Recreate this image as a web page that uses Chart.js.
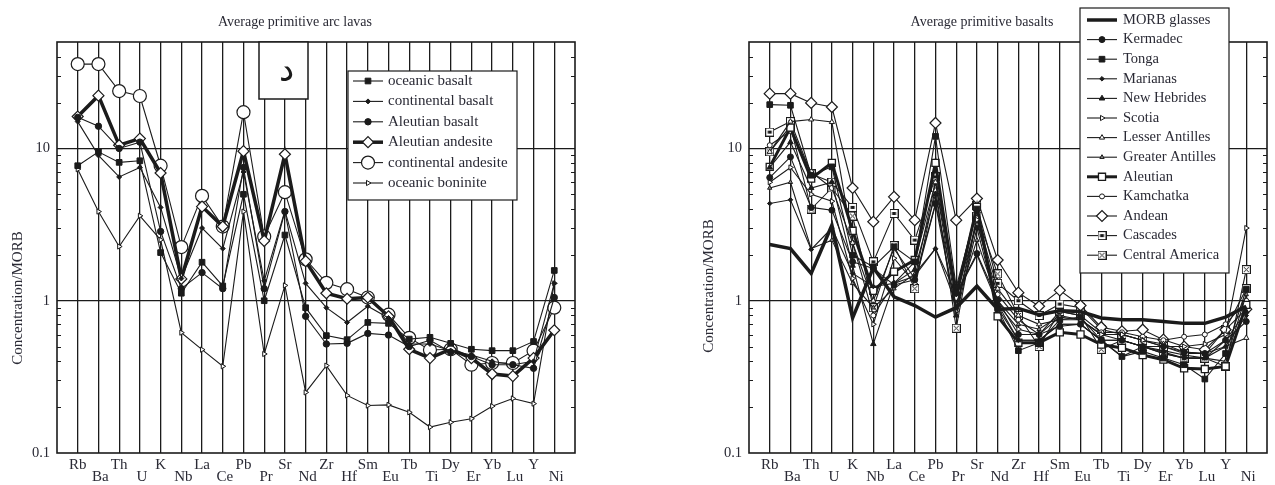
<!DOCTYPE html>
<html>
<head>
<meta charset="utf-8">
<script src="https://cdn.jsdelivr.net/npm/chart.js@4"></script>
<style>
  body { margin: 0; background: #fff; width: 1275px; height: 485px; overflow: hidden; position: relative; }
  .panel { position: absolute; top: 0; height: 485px; }
</style>
</head>
<body>
<div class="panel" style="left:0;width:637px"><canvas id="arcLavas"></canvas></div>
<div class="panel" style="left:637px;width:638px"><canvas id="basalts"></canvas></div>
<script>
const elements = ['Rb', 'Ba', 'Th', 'U', 'K', 'Nb', 'La', 'Ce', 'Pb', 'Pr', 'Sr', 'Nd',
  'Zr', 'Hf', 'Sm', 'Eu', 'Tb', 'Ti', 'Dy', 'Er', 'Yb', 'Lu', 'Y', 'Ni'];
const yTickLabels = [0.1, 1, 10];

// left panel: average primitive arc lavas
const oceanicBasalt = [7.7, 9.5, 8.1, 8.3, 2.07, 1.12, 1.79, 1.25, 5.0, 1.0, 2.7, 0.9, 0.59, 0.555, 0.72, 0.71, 0.56, 0.575, 0.525, 0.48, 0.47, 0.47, 0.54, 1.58];
const continentalBasalt = [15, 9.0, 6.5, 7.5, 4.1, 1.4, 3.0, 2.2, 7.0, 1.35, 3.9, 1.3, 0.9, 0.72, 0.92, 0.77, 0.52, 0.52, 0.47, 0.44, 0.4, 0.38, 0.4, 1.3];
const aleutianBasalt = [16, 14, 10, 11, 2.85, 1.2, 1.53, 1.2, 7.5, 1.2, 3.85, 0.79, 0.52, 0.525, 0.61, 0.595, 0.5, 0.55, 0.46, 0.43, 0.38, 0.38, 0.36, 1.05];
const aleutianAndesite = [16.2, 22.2, 10.5, 11.6, 6.9, 1.39, 4.15, 3.07, 9.6, 2.47, 9.16, 1.82, 1.12, 1.03, 1.05, 0.79, 0.48, 0.42, 0.48, 0.42, 0.33, 0.32, 0.42, 0.64];
const continentalAndesite = [35.8, 35.8, 23.8, 22.1, 7.7, 2.25, 4.88, 3.07, 17.3, 2.64, 5.16, 1.87, 1.31, 1.19, 1.05, 0.81, 0.57, 0.475, 0.48, 0.38, 0.39, 0.39, 0.47, 0.9];
const oceanicBoninite = [7.3, 3.85, 2.27, 3.61, 2.51, 0.617, 0.477, 0.371, 3.85, 0.447, 1.26, 0.25, 0.375, 0.239, 0.205, 0.207, 0.185, 0.148, 0.159, 0.168, 0.203, 0.228, 0.211, 1.3];

// right panel: average primitive basalts
const morbGlasses = [2.34, 2.2, 1.51, 3.13, 0.77, 1.65, 1.06, 0.93, 0.78, 0.9, 1.25, 0.88, 0.89, 0.81, 0.86, 0.85, 0.77, 0.75, 0.75, 0.73, 0.71, 0.71, 0.78, 0.92];
const kermadec = [6.44, 8.8, 4.1, 3.93, 1.8, 1.63, 1.27, 1.37, 4.35, 1.12, 2.04, 1.01, 0.6, 0.6, 0.68, 0.7, 0.55, 0.55, 0.5, 0.5, 0.46, 0.45, 0.55, 0.73];
const tonga = [19.4, 19.2, 6.67, 7.57, 1.99, 1.67, 2.26, 1.8, 12.0, 1.23, 4.0, 0.89, 0.47, 0.53, 0.75, 0.78, 0.55, 0.43, 0.465, 0.42, 0.38, 0.306, 0.45, 1.19];
const marianas = [4.35, 4.6, 2.17, 3.0, 1.51, 1.24, 1.3, 1.45, 2.2, 1.1, 2.0, 0.95, 0.55, 0.55, 0.7, 0.7, 0.55, 0.55, 0.5, 0.46, 0.42, 0.42, 0.5, 0.8];
const newHebrides = [7.5, 11, 5.5, 6, 1.7, 0.52, 1.3, 1.6, 5.0, 0.8, 3.0, 0.9, 0.55, 0.55, 0.7, 0.7, 0.55, 0.43, 0.5, 0.47, 0.44, 0.42, 0.55, 0.85];
const scotia = [6, 7.5, 5, 4.5, 1.4, 0.7, 1.9, 1.3, 4.3, 0.85, 3.4, 0.95, 0.65, 0.6, 0.78, 0.75, 0.6, 0.6, 0.55, 0.5, 0.5, 0.52, 0.6, 3.0];
const lesserAntilles = [9.5, 15, 15.5, 14.9, 2.4, 1.0, 2.2, 1.4, 6, 0.9, 3.5, 1.2, 0.8, 0.7, 0.75, 0.75, 0.6, 0.6, 0.55, 0.52, 0.46, 0.45, 0.5, 0.57];
const greaterAntilles = [5.5, 6.0, 2.2, 2.5, 1.3, 0.9, 1.2, 1.5, 2.2, 0.95, 2.5, 1.0, 0.7, 0.65, 0.8, 0.75, 0.6, 0.55, 0.5, 0.45, 0.42, 0.42, 0.4, 1.1];
const aleutian = [7.57, 13.7, 6.34, 8.04, 2.88, 1.16, 1.55, 1.85, 8.04, 1.06, 4.13, 0.79, 0.53, 0.53, 0.62, 0.6, 0.515, 0.49, 0.44, 0.41, 0.36, 0.356, 0.37, 0.94];
const kamchatka = [10.5, 13, 7, 5.5, 2.4, 0.8, 1.3, 1.8, 6, 1.1, 3.2, 1.1, 0.75, 0.6, 0.85, 0.8, 0.62, 0.62, 0.58, 0.55, 0.58, 0.6, 0.7, 1.0];
const andean = [22.9, 22.9, 19.9, 18.7, 5.5, 3.3, 4.81, 3.38, 14.7, 3.38, 4.69, 1.85, 1.13, 0.92, 1.17, 0.93, 0.67, 0.63, 0.645, 0.555, 0.5, 0.477, 0.645, 0.88];
const cascades = [12.8, 15, 6.8, 6, 4.1, 1.8, 3.74, 2.5, 6.5, 1.15, 4.2, 1.3, 1.0, 0.8, 0.95, 0.9, 0.65, 0.6, 0.55, 0.5, 0.45, 0.45, 0.65, 1.2];
const centralAmerica = [9.5, 14, 4.0, 5.5, 3.6, 0.9, 2.3, 1.2, 5.5, 0.66, 3.6, 1.5, 0.8, 0.5, 0.85, 0.8, 0.48, 0.55, 0.5, 0.45, 0.42, 0.42, 0.37, 1.6];

const ink = '#1b1b1b';
const textInk = '#2a2a35';
const serif = '"Liberation Serif", "Times New Roman", serif';

// small square markers with a dot / cross inside
function boxMark(kind) {
  const c = document.createElement('canvas');
  c.width = c.height = 9;
  const g = c.getContext('2d');
  g.fillStyle = '#fff';
  g.fillRect(0, 0, 9, 9);
  g.strokeStyle = ink;
  g.lineWidth = 1;
  g.strokeRect(0.5, 0.5, 8, 8);
  g.fillStyle = ink;
  if (kind === 'dot') {
    g.fillRect(2.5, 3, 4, 3);
  } else {
    g.beginPath();
    g.moveTo(2, 2); g.lineTo(7, 7);
    g.moveTo(7, 2); g.lineTo(2, 7);
    g.stroke();
  }
  return c;
}

function series(label, values, style) {
  return Object.assign({
    label,
    data: values.map((v, i) => ({ x: i + 1, y: v })),
    borderColor: ink,
    borderWidth: 1.1,
    pointBorderColor: ink,
    pointBorderWidth: 1,
    pointBackgroundColor: ink,
    pointStyle: 'circle',
    pointRadius: 3,
    pointRotation: 0
  }, style);
}

function minorTickValues(max) {
  const out = [];
  for (let d = 0.1; d < max; d *= 10) {
    for (let m = 2; m <= 9; m++) {
      const v = +(m * d).toPrecision(3);
      if (v < max) out.push(v);
    }
  }
  return out;
}

function decor(cfg) {
  return {
    id: 'decor',
    afterDraw(chart) {
      const { ctx, chartArea: a, scales: { x, y } } = chart;
      ctx.save();

      // minor ticks on both sides
      ctx.strokeStyle = ink;
      ctx.lineWidth = 1;
      minorTickValues(y.max).forEach(v => {
        const py = Math.round(y.getPixelForValue(v)) + 0.5;
        ctx.beginPath();
        ctx.moveTo(a.left, py); ctx.lineTo(a.left + 4, py);
        ctx.moveTo(a.right, py); ctx.lineTo(a.right - 4, py);
        ctx.stroke();
      });

      ctx.lineWidth = 1.6;
      ctx.strokeRect(a.left, a.top, a.right - a.left, a.bottom - a.top);

      // tick labels
      ctx.fillStyle = textInk;
      ctx.font = `14.5px ${serif}`;
      ctx.textAlign = 'right';
      ctx.textBaseline = 'middle';
      yTickLabels.forEach(v => ctx.fillText(String(v), a.left - 7, y.getPixelForValue(v)));
      ctx.textAlign = 'center';
      ctx.font = `15px ${serif}`;
      elements.forEach((el, i) => {
        const low = i % 2 === 1;
        ctx.fillText(el, x.getPixelForValue(i + 1) + (low ? 2 : 0), a.bottom + (low ? 24 : 12));
      });

      // axis title
      ctx.save();
      ctx.translate(a.left - cfg.axisTitleGap, cfg.axisTitleY);
      ctx.rotate(-Math.PI / 2);
      ctx.fillText('Concentration/MORB', 0, 0);
      ctx.restore();

      // panel title
      ctx.font = `14px ${serif}`;
      ctx.fillText(cfg.title, cfg.titleX, 22);

      // extra label box
      if (cfg.tag) {
        const t = cfg.tag;
        ctx.fillStyle = '#fff';
        ctx.fillRect(t.left, t.top, t.width, t.height);
        ctx.strokeStyle = ink;
        ctx.lineWidth = 1.5;
        ctx.strokeRect(t.left, t.top, t.width, t.height);
        ctx.fillStyle = ink;
        ctx.font = '34px "DejaVu Sans", sans-serif';
        ctx.fillText(t.text, t.left + t.width / 2 + 3, t.top + t.height / 2 + 2);
      }

      // legend
      const lg = cfg.legend;
      ctx.fillStyle = '#fff';
      ctx.fillRect(lg.left, lg.top, lg.width, lg.height);
      ctx.strokeStyle = ink;
      ctx.lineWidth = 1.2;
      ctx.strokeRect(lg.left, lg.top, lg.width, lg.height);
      ctx.textAlign = 'left';
      ctx.font = `${lg.fontSize}px ${serif}`;
      chart.data.datasets.forEach((ds, i) => {
        const yy = lg.first + i * lg.step;
        ctx.strokeStyle = ink;
        ctx.lineWidth = ds.borderWidth;
        ctx.beginPath();
        ctx.moveTo(lg.left + lg.lineFrom, yy);
        ctx.lineTo(lg.left + lg.lineTo, yy);
        ctx.stroke();
        if (ds.pointRadius > 0) {
          ctx.fillStyle = ds.pointBackgroundColor;
          ctx.strokeStyle = ds.pointBorderColor;
          ctx.lineWidth = ds.pointBorderWidth;
          Chart.helpers.drawPoint(ctx, {
            pointStyle: ds.pointStyle,
            radius: ds.pointRadius,
            rotation: ds.pointRotation,
            borderWidth: ds.pointBorderWidth
          }, lg.left + (lg.lineFrom + lg.lineTo) / 2, yy);
        }
        ctx.fillStyle = textInk;
        ctx.fillText(ds.label, lg.left + lg.textAt, yy);
      });

      ctx.restore();
    }
  };
}

function spiderOptions(padding) {
  return {
    responsive: true,
    maintainAspectRatio: false,
    animation: false,
    events: [],
    layout: { padding },
    plugins: { legend: { display: false }, tooltip: { enabled: false } },
    scales: {
      x: {
        type: 'linear', min: 0, max: 25,
        ticks: { display: false, stepSize: 1 },
        border: { display: false },
        grid: {
          drawTicks: false,
          lineWidth: 1.3,
          color: c => (c.tick && c.tick.value >= 1 && c.tick.value <= 24) ? ink : 'transparent'
        },
        afterFit: s => { s.height = 0; }
      },
      y: {
        type: 'logarithmic', min: 0.1, max: 50,
        ticks: { display: false },
        border: { display: false },
        grid: {
          drawTicks: false,
          lineWidth: 1.3,
          color: c => (c.tick && (c.tick.value === 1 || c.tick.value === 10)) ? ink : 'transparent'
        },
        afterFit: s => { s.width = 0; }
      }
    }
  };
}

const openWhite = { pointBackgroundColor: '#fff' };

new Chart(document.getElementById('arcLavas'), {
  type: 'line',
  data: {
    datasets: [
      series('oceanic basalt', oceanicBasalt, { pointStyle: 'rect', pointRadius: 4 }),
      series('continental basalt', continentalBasalt, { pointStyle: 'rectRot', pointRadius: 2.5 }),
      series('Aleutian basalt', aleutianBasalt, { pointStyle: 'circle', pointRadius: 3.2 }),
      series('Aleutian andesite', aleutianAndesite, Object.assign({ borderWidth: 3.5, pointStyle: 'rectRot', pointRadius: 5.5, pointBorderWidth: 1.2 }, openWhite)),
      series('continental andesite', continentalAndesite, Object.assign({ pointStyle: 'circle', pointRadius: 6.5, pointBorderWidth: 1.2 }, openWhite)),
      series('oceanic boninite', oceanicBoninite, Object.assign({ pointStyle: 'triangle', pointRadius: 3, pointRotation: 90 }, openWhite))
    ]
  },
  options: spiderOptions({ left: 57, top: 42, right: 62, bottom: 32 }),
  plugins: [decor({
    title: 'Average primitive arc lavas',
    titleX: 295,
    axisTitleGap: 39,
    axisTitleY: 298,
    tag: { left: 259, top: 42, width: 49, height: 57, text: 'د' },
    legend: { left: 348, top: 71, width: 169, height: 129, first: 81, step: 20.4, lineFrom: 5, lineTo: 35, textAt: 40, fontSize: 15 }
  })]
});

new Chart(document.getElementById('basalts'), {
  type: 'line',
  data: {
    datasets: [
      series('MORB glasses', morbGlasses, { borderWidth: 3.5, pointRadius: 0 }),
      series('Kermadec', kermadec, { pointStyle: 'circle', pointRadius: 3 }),
      series('Tonga', tonga, { pointStyle: 'rect', pointRadius: 4 }),
      series('Marianas', marianas, { pointStyle: 'rectRot', pointRadius: 2.3 }),
      series('New Hebrides', newHebrides, { pointStyle: 'triangle', pointRadius: 3.2 }),
      series('Scotia', scotia, Object.assign({ pointStyle: 'triangle', pointRadius: 3, pointRotation: 90 }, openWhite)),
      series('Lesser Antilles', lesserAntilles, Object.assign({ pointStyle: 'triangle', pointRadius: 3 }, openWhite)),
      series('Greater Antilles', greaterAntilles, { pointStyle: 'triangle', pointRadius: 2.5, pointBackgroundColor: '#888' }),
      series('Aleutian', aleutian, Object.assign({ borderWidth: 3, pointStyle: 'rect', pointRadius: 5, pointBorderWidth: 1.3 }, openWhite)),
      series('Kamchatka', kamchatka, Object.assign({ pointStyle: 'circle', pointRadius: 2.5 }, openWhite)),
      series('Andean', andean, Object.assign({ pointStyle: 'rectRot', pointRadius: 5.5, pointBorderWidth: 1.2 }, openWhite)),
      series('Cascades', cascades, { pointStyle: boxMark('dot'), pointRadius: 4 }),
      series('Central America', centralAmerica, { pointStyle: boxMark('cross'), pointRadius: 4 })
    ]
  },
  options: spiderOptions({ left: 112, top: 42, right: 8, bottom: 32 }),
  plugins: [decor({
    title: 'Average primitive basalts',
    titleX: 345,
    axisTitleGap: 40,
    axisTitleY: 286,
    legend: { left: 443, top: 8, width: 149, height: 265, first: 20, step: 19.6, lineFrom: 7, lineTo: 37, textAt: 43, fontSize: 14.5 }
  })]
});
</script>
</body>
</html>
